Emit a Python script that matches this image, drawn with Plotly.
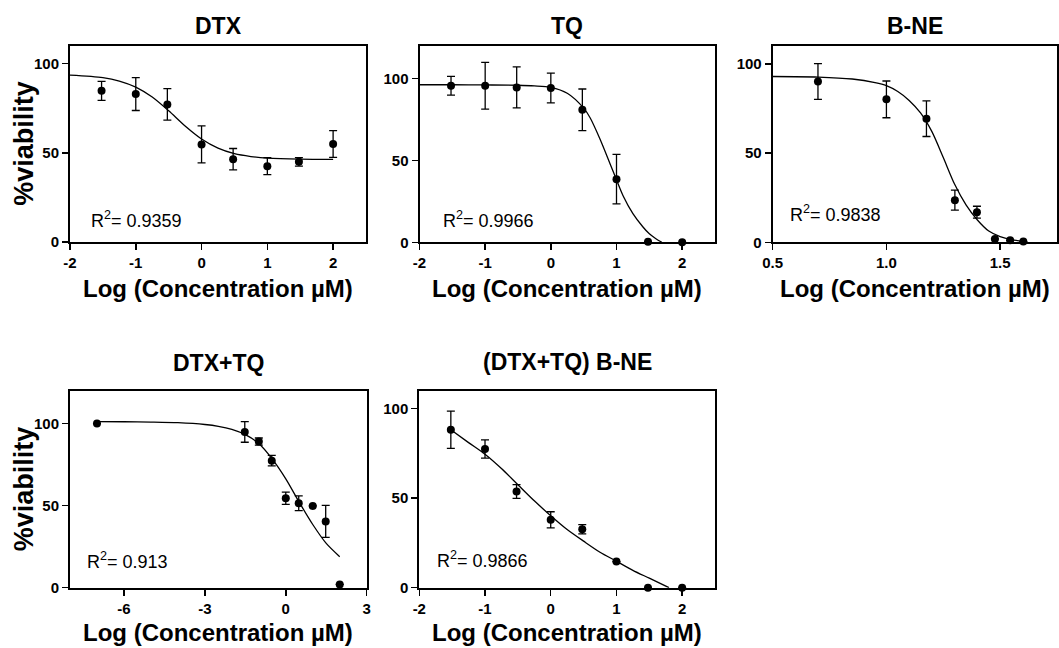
import plotly.graph_objects as go

# ---------------- data ----------------
# DTX
DTX_LOGC = [-1.52, -1.0, -0.52, 0.0, 0.48, 1.0, 1.48, 2.0]
DTX_VIAB = [84.7, 82.9, 77.1, 54.7, 46.4, 42.5, 44.9, 54.9]
DTX_ERR = [5.3, 9.2, 8.8, 10.4, 6.0, 4.8, 2.4, 7.5]
DTX_FIT_X = [-2.0, -1.5, -1.25, -1.0, -0.75, -0.5, -0.25, 0.0, 0.25, 0.5, 0.75, 1.0, 1.5, 2.0]
DTX_FIT_Y = [93.5, 92.1, 90.2, 86.8, 81.2, 73.5, 65.0, 57.7, 52.6, 49.5, 47.9, 47.0, 46.4, 46.3]
DTX_R2 = "0.9359"

# TQ
TQ_LOGC = [-1.52, -1.0, -0.52, 0.0, 0.48, 1.0, 1.48, 2.0]
TQ_VIAB = [95.7, 95.7, 94.7, 94.3, 81.0, 38.6, 0.4, 0.0]
TQ_ERR = [5.7, 14.3, 12.5, 9.1, 12.7, 15.1, 0.0, 0.0]
TQ_FIT_X = [-2.0, -1.5, -1.0, -0.5, -0.25, 0.0, 0.25, 0.5, 0.6, 0.75, 0.9, 1.0, 1.1, 1.25, 1.4, 1.5, 1.6, 1.69]
TQ_FIT_Y = [96.3, 96.3, 96.2, 96.0, 95.6, 94.7, 91.1, 82.0, 76.0, 63.0, 48.2, 38.2, 28.5, 17.5, 9.5, 5.2, 2.2, 0.0]
TQ_R2 = "0.9966"

# B-NE
BNE_LOGC = [0.699, 1.0, 1.176, 1.301, 1.398, 1.477, 1.544, 1.602]
BNE_VIAB = [90.1, 80.1, 69.3, 23.6, 16.9, 1.9, 1.1, 0.4]
BNE_ERR = [10.0, 10.3, 10.0, 5.6, 3.3, 0.0, 0.0, 0.0]
BNE_FIT_X = [0.5, 0.7, 0.85, 0.95, 1.0, 1.05, 1.1, 1.15, 1.2, 1.25, 1.3, 1.35, 1.4, 1.45, 1.5, 1.55, 1.6]
BNE_FIT_Y = [92.9, 92.6, 91.5, 89.5, 87.8, 84.5, 79.5, 72.5, 62.0, 47.5, 32.5, 21.0, 12.5, 6.3, 3.2, 1.5, 0.6]
BNE_R2 = "0.9838"

# DTX+TQ
COMBO_LOGC = [-7.0, -1.52, -1.0, -0.52, 0.0, 0.48, 1.0, 1.48, 2.0]
COMBO_VIAB = [100.0, 94.9, 89.0, 77.4, 54.5, 51.4, 49.8, 40.4, 2.0]
COMBO_ERR = [0.0, 6.3, 2.2, 3.2, 3.7, 4.5, 0.0, 9.8, 0.0]
COMBO_FIT_X = [-7.0, -6.0, -5.0, -4.0, -3.0, -2.5, -2.0, -1.5, -1.0, -0.5, 0.0, 0.5, 1.0, 1.5, 2.0]
COMBO_FIT_Y = [101.2, 101.1, 100.9, 100.5, 99.4, 98.3, 96.4, 93.2, 87.8, 78.3, 66.3, 52.0, 38.5, 27.0, 18.9]
COMBO_R2 = "0.913"

# (DTX+TQ) B-NE
CBNE_LOGC = [-1.52, -1.0, -0.52, 0.0, 0.48, 1.0, 1.48, 2.0]
CBNE_VIAB = [88.2, 77.4, 53.7, 37.9, 32.6, 14.6, 0.0, 0.0]
CBNE_ERR = [10.4, 5.1, 3.8, 4.5, 2.6, 0.0, 0.0, 0.0]
CBNE_FIT_X = [-1.52, -1.25, -1.0, -0.75, -0.5, -0.25, 0.0, 0.25, 0.5, 0.75, 1.0, 1.25, 1.5, 1.8]
CBNE_FIT_Y = [88.2, 81.0, 74.5, 66.5, 57.5, 48.5, 40.2, 32.5, 26.0, 19.8, 14.8, 9.7, 5.3, 0.0]
CBNE_R2 = "0.9866"

TITLES = ["DTX", "TQ", "B-NE", "DTX+TQ", "(DTX+TQ) B-NE"]
X_TITLE = "Log (Concentration µM)"
Y_TITLE = "%viability"
Y_TICKS = [0, 50, 100]
X_TICKS_STD = [-2, -1, 0, 1, 2]
X_TICKS_BNE = [0.5, 1.0, 1.5]
X_TICKS_COMBO = [-6, -3, 0, 3]

# ---------------- layout geometry ----------------
W, H = 1059, 648
FONT = "Arial, Liberation Sans, Helvetica, sans-serif"

panels = [
    dict(x=DTX_LOGC, y=DTX_VIAB, e=DTX_ERR, fx=DTX_FIT_X, fy=DTX_FIT_Y, r2=DTX_R2,
         xdom=[70, 366], ydom=[45.7, 242], xr=[-2, 2.5], yr=[0, 110],
         xt=X_TICKS_STD, xfmt="{:g}", r2pos=(89.3, 220), tpos=25.7, xtpos=288),
    dict(x=TQ_LOGC, y=TQ_VIAB, e=TQ_ERR, fx=TQ_FIT_X, fy=TQ_FIT_Y, r2=TQ_R2,
         xdom=[419.5, 715], ydom=[46, 242.3], xr=[-2, 2.5], yr=[0, 120],
         xt=X_TICKS_STD, xfmt="{:g}", r2pos=(440.7, 220), tpos=26, xtpos=288),
    dict(x=BNE_LOGC, y=BNE_VIAB, e=BNE_ERR, fx=BNE_FIT_X, fy=BNE_FIT_Y, r2=BNE_R2,
         xdom=[772.7, 1057], ydom=[46, 242.3], xr=[0.5, 1.75], yr=[0, 110],
         xt=X_TICKS_BNE, xfmt="{:.1f}", r2pos=(788.3, 213.3), tpos=26, xtpos=288),
    dict(x=COMBO_LOGC, y=COMBO_VIAB, e=COMBO_ERR, fx=COMBO_FIT_X, fy=COMBO_FIT_Y, r2=COMBO_R2,
         xdom=[70, 366.7], ydom=[390.7, 587.7], xr=[-8, 3], yr=[0, 120],
         xt=X_TICKS_COMBO, xfmt="{:g}", r2pos=(85, 560), tpos=362.7, xtpos=632.5),
    dict(x=CBNE_LOGC, y=CBNE_VIAB, e=CBNE_ERR, fx=CBNE_FIT_X, fy=CBNE_FIT_Y, r2=CBNE_R2,
         xdom=[419.3, 715], ydom=[390.7, 587.7], xr=[-2, 2.5], yr=[0, 110],
         xt=X_TICKS_STD, xfmt="{:g}", r2pos=(435, 559), tpos=361.7, xtpos=632.5),
]

fig = go.Figure()
annotations = []
layout_axes = {}

for i, p in enumerate(panels):
    n = i + 1
    xa = "x" if n == 1 else f"x{n}"
    ya = "y" if n == 1 else f"y{n}"
    # fitted curve
    fig.add_trace(go.Scatter(
        x=p["fx"], y=p["fy"], mode="lines",
        line=dict(color="black", width=1.3, shape="spline", smoothing=0.8),
        xaxis=xa, yaxis=ya, showlegend=False, hoverinfo="skip"))
    # data points with error bars
    fig.add_trace(go.Scatter(
        x=p["x"], y=p["y"], mode="markers",
        marker=dict(color="black", size=8, symbol="circle"),
        error_y=dict(type="data", array=p["e"], visible=True, color="black", thickness=1.3, width=4),
        xaxis=xa, yaxis=ya, showlegend=False, cliponaxis=False))

    x0, x1 = p["xdom"]
    y0, y1 = p["ydom"]
    common = dict(showline=True, linecolor="black", linewidth=2, mirror=True,
                  ticks="outside", ticklen=6, tickwidth=1.5, tickcolor="black",
                  showgrid=False, zeroline=False, automargin=False,
                  tickfont=dict(family=FONT, size=15, color="black", weight="bold"))
    layout_axes["xaxis" if n == 1 else f"xaxis{n}"] = dict(
        domain=[x0 / W, x1 / W], range=p["xr"], tickmode="array", tickvals=p["xt"],
        ticktext=[p["xfmt"].format(v) for v in p["xt"]], anchor=ya, **common)
    layout_axes["yaxis" if n == 1 else f"yaxis{n}"] = dict(
        domain=[1 - y1 / H, 1 - y0 / H], range=p["yr"], tickmode="array", tickvals=Y_TICKS,
        ticktext=[str(v) for v in Y_TICKS], anchor=xa, **common)

    cx = (x0 + x1) / 2 / W
    # panel title
    annotations.append(dict(text=f"<b>{TITLES[i]}</b>", x=cx, y=1 - p["tpos"] / H,
                            xref="paper", yref="paper", xanchor="center", yanchor="middle",
                            showarrow=False, font=dict(family=FONT, size=23, color="black")))
    # x-axis title
    annotations.append(dict(text=f"<b>{X_TITLE}</b>", x=cx, y=1 - p["xtpos"] / H,
                            xref="paper", yref="paper", xanchor="center", yanchor="middle",
                            showarrow=False, font=dict(family=FONT, size=24, color="black")))
    # R^2
    annotations.append(dict(text=f"R<sup>2</sup>= {p['r2']}", x=p["r2pos"][0] / W, y=1 - p["r2pos"][1] / H,
                            xref="paper", yref="paper", xanchor="left", yanchor="middle",
                            showarrow=False, font=dict(family=FONT, size=18, color="black")))

# y-axis titles (left column only)
for yc in [(45.7 + 242) / 2, (390.7 + 587.7) / 2]:
    annotations.append(dict(text=f"<b>{Y_TITLE}</b>", x=24 / W, y=1 - yc / H,
                            xref="paper", yref="paper", xanchor="center", yanchor="middle",
                            textangle=-90, showarrow=False,
                            font=dict(family=FONT, size=27, color="black")))

fig.update_layout(
    width=W, height=H, margin=dict(l=0, r=0, t=0, b=0),
    paper_bgcolor="white", plot_bgcolor="white", hovermode=False,
    annotations=annotations, **layout_axes)

fig.write_html("out.html",
               config={"displayModeBar": False, "staticPlot": True},
               post_script="document.body.style.margin='0';document.body.style.overflow='hidden';")
